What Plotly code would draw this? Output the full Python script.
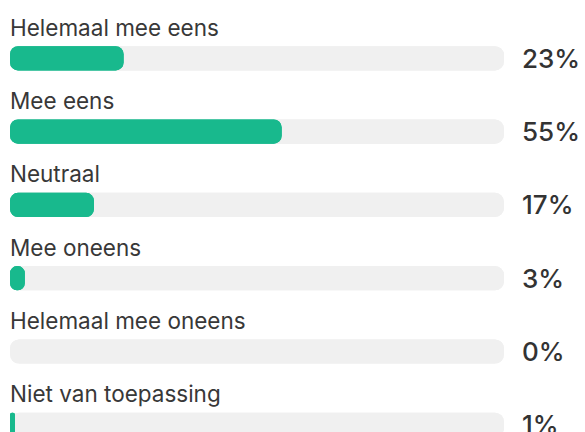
import plotly.graph_objects as go

categories = ["Helemaal mee eens", "Mee eens", "Neutraal", "Mee oneens",
              "Helemaal mee oneens", "Niet van toepassing"]
values = [23, 55, 17, 3, 0, 1]
pct_labels = ["23%", "55%", "17%", "3%", "0%", "1%"]
track_max = 100

GREEN = "#18b98d"
TRACK = "#f0f0f0"
TEXT = "#333333"
FONT = "Inter"


def rounded_bar(vals, color, radius):
    """Two overlapping full-length bars (one growing right from 0, one growing
    left from the value) so that both ends come out rounded."""
    common = dict(y=categories, orientation="h", width=0.33,
                  hoverinfo="skip", showlegend=False,
                  marker=dict(color=color, cornerradius=radius, line=dict(width=0)))
    right = go.Bar(x=list(vals), base=[0] * len(vals), **common)
    left = go.Bar(x=[-v for v in vals], base=list(vals), **common)
    return [right, left]


fig = go.Figure()
for tr in rounded_bar([track_max] * len(categories), TRACK, 9):
    fig.add_trace(tr)
for tr in rounded_bar(values, GREEN, 8):
    fig.add_trace(tr)

annotations = []
for cat, lab in zip(categories, pct_labels):
    annotations.append(dict(
        x=1, xref="paper", y=cat, yref="y", text=lab, showarrow=False,
        xanchor="left", yanchor="middle", xshift=16,
        font=dict(family=FONT, size=26, color=TEXT, weight=500),
    ))
    annotations.append(dict(
        x=0, xref="paper", y=cat, yref="y", text=cat, showarrow=False,
        xanchor="left", yanchor="middle", xshift=-2, yshift=31,
        font=dict(family=FONT, size=22.5, color="#383838"),
    ))

fig.update_layout(
    width=585, height=432,
    margin=dict(l=10, r=81, t=0, b=0),
    paper_bgcolor="white", plot_bgcolor="white",
    barmode="overlay",
    xaxis=dict(range=[0, track_max], visible=False, fixedrange=True),
    yaxis=dict(categoryorder="array", categoryarray=categories,
               range=[5.098, -0.795], visible=False, fixedrange=True),
    annotations=annotations,
)
fig.write_html("out.html", config={"displayModeBar": False},
               post_script="document.body.style.margin='0px';")
